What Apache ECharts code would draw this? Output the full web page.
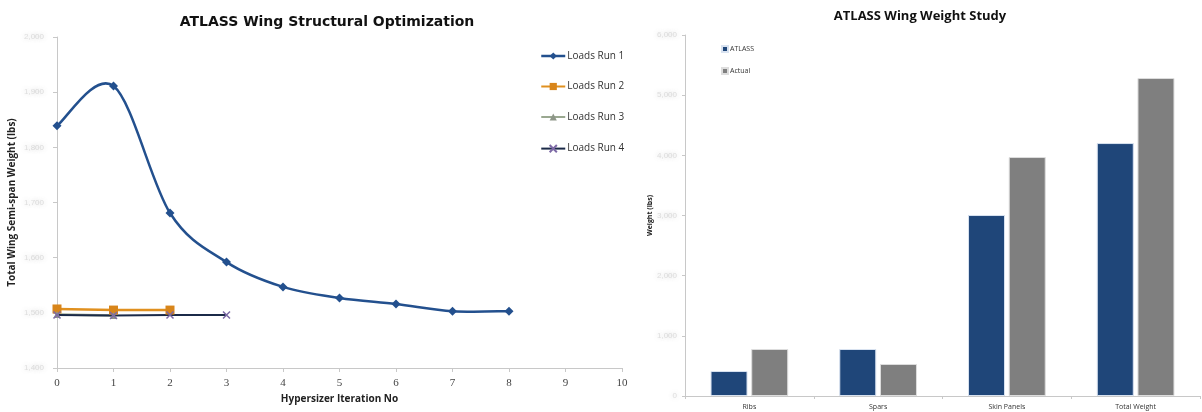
<!DOCTYPE html>
<html>
<head>
<meta charset="utf-8">
<script src="https://cdn.jsdelivr.net/npm/echarts@6/dist/echarts.min.js"></script>
<style>
  html, body { margin: 0; padding: 0; background: #fff; }
  #chart { width: 1202px; height: 412px; }
</style>
</head>
<body>
<div id="chart"></div>
<script>
// Structural optimization history (semi-span weight, lbs) per loads run
const iterations = [0, 1, 2, 3, 4, 5, 6, 7, 8];
const loadsRun1 = [1839, 1911, 1681, 1592, 1547, 1527, 1516, 1503, 1503];
const loadsRun2 = [1507, 1505, 1505];
const loadsRun3 = [1497, 1495];
const loadsRun4 = [1496, 1495, 1496, 1496];
const runNames = ['Loads Run 1', 'Loads Run 2', 'Loads Run 3', 'Loads Run 4'];

// Weight breakdown (lbs)
const components = ['Ribs', 'Spars', 'Skin Panels', 'Total Weight'];
const atlassWeight = [415, 781, 3008, 4204];
const actualWeight = [781, 532, 3972, 5285];

const pairs = (vals) => vals.map((v, i) => [iterations[i], v]);

const RUN1_COLOR = '#23508e';

const blurLabel = {
  color: 'rgba(170,170,170,0.35)',
  textShadowColor: 'rgba(110,110,110,0.9)',
  textShadowBlur: 5,
  fontSize: 8,
  fontFamily: 'Liberation Sans'
};

const xMark = 'path://M0,0 L10,10 M10,0 L0,10';

// Spreadsheet-style smoothed curve: Catmull-Rom segments as cubic Béziers
function smoothPath(pts) {
  const cmds = [['M', pts[0][0], pts[0][1]]];
  for (let i = 0; i < pts.length - 1; i++) {
    const p0 = pts[Math.max(i - 1, 0)];
    const p1 = pts[i];
    const p2 = pts[i + 1];
    const p3 = pts[Math.min(i + 2, pts.length - 1)];
    const c1 = [p1[0] + (p2[0] - p0[0]) / 6, p1[1] + (p2[1] - p0[1]) / 6];
    const c2 = [p2[0] - (p3[0] - p1[0]) / 6, p2[1] - (p3[1] - p1[1]) / 6];
    cmds.push(['C', c1[0], c1[1], c2[0], c2[1], p2[0], p2[1]]);
  }
  return cmds.map(c => c[0] + c.slice(1).map(n => n.toFixed(2)).join(',')).join(' ');
}

const chart = echarts.init(document.getElementById('chart'));
chart.setOption({
  animation: false,
  backgroundColor: '#fff',
  title: [
    {
      text: 'ATLASS Wing Structural Optimization',
      left: 322, top: 10, textAlign: 'center',
      textStyle: { fontFamily: 'DejaVu Sans', fontWeight: 'bold', fontSize: 14, color: '#111' }
    },
    {
      text: 'ATLASS Wing Weight Study',
      left: 915, top: 5, textAlign: 'center',
      textStyle: { fontFamily: 'Open Sans', fontWeight: 'bold', fontSize: 13, color: '#111' }
    }
  ],
  legend: [
    {
      data: [
        { name: runNames[0], lineStyle: { color: RUN1_COLOR, width: 2.5, opacity: 1 } },
        runNames[1], runNames[2], runNames[3]
      ],
      orient: 'vertical',
      left: 540, top: 51, padding: 0,
      itemGap: 20.5,
      itemWidth: 24, itemHeight: 9,
      textStyle: { fontFamily: 'Open Sans', fontSize: 10, color: '#333', padding: [0, 0, 0, -3] }
    },
    {
      data: ['ATLASS', 'Actual'],
      orient: 'vertical',
      left: 721, top: 45, padding: 0,
      itemGap: 14,
      itemWidth: 6, itemHeight: 6,
      icon: 'rect',
      textStyle: { fontFamily: 'Open Sans', fontSize: 7, color: '#333', padding: [0, 0, 0, -3] }
    }
  ],
  grid: [
    { left: 57, top: 37, width: 565, height: 331 },
    { left: 685, top: 35, width: 515, height: 361 }
  ],
  xAxis: [
    {
      type: 'value', gridIndex: 0, min: 0, max: 10, interval: 1,
      name: 'Hypersizer Iteration No', nameLocation: 'middle', nameGap: 24,
      nameTextStyle: { fontFamily: 'Open Sans', fontWeight: 'bold', fontSize: 10, color: '#222' },
      axisLine: { lineStyle: { color: '#c8c8c8' } },
      axisTick: { show: true, length: 4, lineStyle: { color: '#c8c8c8' } },
      axisLabel: { fontFamily: 'Liberation Serif', fontSize: 11, color: '#444', margin: 10 },
      splitLine: { show: false }
    },
    {
      type: 'category', gridIndex: 1, data: components,
      axisLine: { lineStyle: { color: '#c8c8c8' } },
      axisTick: { show: true, length: 3, lineStyle: { color: '#c8c8c8' } },
      axisLabel: { fontFamily: 'Open Sans', fontSize: 7, color: '#333', margin: 7 }
    }
  ],
  yAxis: [
    {
      type: 'value', gridIndex: 0, min: 1400, max: 2000, interval: 100,
      name: 'Total Wing Semi-span Weight (lbs)', nameLocation: 'middle', nameGap: 40,
      nameTextStyle: { fontFamily: 'Open Sans', fontWeight: 'bold', fontSize: 10, color: '#222' },
      axisLine: { show: true, lineStyle: { color: '#c8c8c8' } },
      axisTick: { show: true, length: 4, lineStyle: { color: '#c8c8c8' } },
      axisLabel: Object.assign({ margin: 13 }, blurLabel),
      splitLine: { show: false }
    },
    {
      type: 'value', gridIndex: 1, min: 0, max: 6000, interval: 1000,
      name: 'Weight (lbs)', nameLocation: 'middle', nameGap: 30,
      nameTextStyle: { fontFamily: 'Open Sans', fontWeight: 'bold', fontSize: 7, color: '#222' },
      axisLine: { show: true, lineStyle: { color: '#c8c8c8' } },
      axisTick: { show: true, length: 3, lineStyle: { color: '#c8c8c8' } },
      axisLabel: Object.assign({ margin: 8 }, blurLabel),
      splitLine: { show: false }
    }
  ],
  series: [
    {
      // smoothed curve for run 1, positioned through the axis scales
      type: 'custom', xAxisIndex: 0, yAxisIndex: 0,
      data: pairs(loadsRun1),
      silent: true, z: 2,
      renderItem: function (params, api) {
        if (params.dataIndex !== 0) return null;
        const pts = pairs(loadsRun1).map(p => api.coord(p));
        return {
          type: 'path',
          shape: { pathData: smoothPath(pts) },
          style: { fill: 'none', stroke: RUN1_COLOR, lineWidth: 2.5 }
        };
      }
    },
    {
      name: runNames[0], type: 'line', xAxisIndex: 0, yAxisIndex: 0,
      data: pairs(loadsRun1), z: 3,
      symbol: 'diamond', symbolSize: 9,
      lineStyle: { color: RUN1_COLOR, width: 2.5, opacity: 0 },
      itemStyle: { color: RUN1_COLOR }
    },
    {
      name: runNames[1], type: 'line', xAxisIndex: 0, yAxisIndex: 0,
      data: pairs(loadsRun2),
      symbol: 'rect', symbolSize: 9,
      lineStyle: { color: '#e0901f', width: 2.5 },
      itemStyle: { color: '#d8851a' }
    },
    {
      name: runNames[2], type: 'line', xAxisIndex: 0, yAxisIndex: 0,
      data: pairs(loadsRun3),
      symbol: 'triangle', symbolSize: 7,
      lineStyle: { color: '#9aa890', width: 2.5 },
      itemStyle: { color: '#8e9688' }
    },
    {
      name: runNames[3], type: 'line', xAxisIndex: 0, yAxisIndex: 0,
      data: pairs(loadsRun4),
      symbol: xMark, symbolSize: 7,
      lineStyle: { color: '#1b2a48', width: 2 },
      itemStyle: { color: 'none', borderColor: '#7d6aa6', borderWidth: 1.5 }
    },
    {
      name: 'ATLASS', type: 'bar', xAxisIndex: 1, yAxisIndex: 1,
      data: atlassWeight, barWidth: 37, barGap: '10%',
      itemStyle: { color: '#1f4679', borderColor: '#d8e2f0', borderWidth: 1 }
    },
    {
      name: 'Actual', type: 'bar', xAxisIndex: 1, yAxisIndex: 1,
      data: actualWeight, barWidth: 37,
      itemStyle: { color: '#7f7f7f', borderColor: '#dddddd', borderWidth: 1 }
    }
  ]
});
</script>
</body>
</html>
